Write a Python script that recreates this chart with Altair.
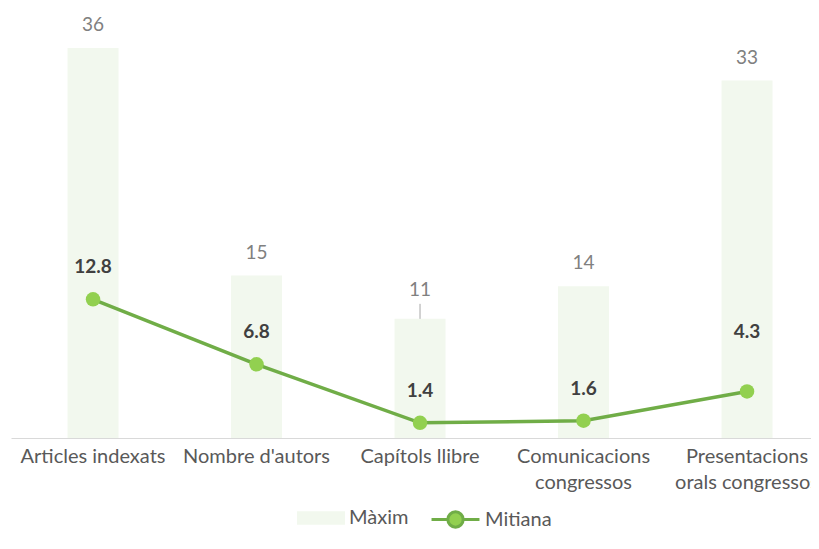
import altair as alt
import pandas as pd

categories = ["Articles indexats", "Nombre d'autors", "Capítols llibre",
              "Comunicacions|congressos", "Presentacions|orals congressos"]
maxim = [36, 15, 11, 14, 33]
mitiana = [12.8, 6.8, 1.4, 1.6, 4.3]

df = pd.DataFrame({"cat": categories, "Màxim": maxim, "Mitiana": mitiana,
                   "s1": "Màxim", "s2": "Mitiana"})

FONT = "Lato"
FS = 19
BAR = "#f2f8ee"
LINE = "#70ad47"
PT = "#92d050"

x = alt.X("cat:N", sort=categories, title=None,
          scale=alt.Scale(paddingInner=0.688, paddingOuter=0.2905, align=0.595),
          axis=alt.Axis(labelExpr="split(datum.label, '|')", labelAngle=0,
                        labelFontSize=20, labelColor="#595959", labelFont=FONT,
                        labelPadding=18, labelLineHeight=26, ticks=False,
                        domainColor="#d9d9d9", domainWidth=1.2, labelBaseline="middle"))
yscale = alt.Scale(domain=[0, 39.7], nice=False)

rect_path = "M-1,-0.28H1V0.28H-1Z"
line_path = "M-1,0H-0.32A0.32,0.32 0 1,1 0.32,0H1M0.32,0A0.32,0.32 0 1,1 -0.32,0"

leg_common = dict(orient="none", direction="horizontal", labelFontSize=20,
                  labelColor="#595959", labelFont=FONT, symbolSize=2300,
                  labelOffset=4, legendY=486)

base = alt.Chart(df)

bars = base.mark_bar().encode(
    x=x, y=alt.Y("Màxim:Q", scale=yscale, axis=None),
    fill=alt.Fill("s1:N", title=None, scale=alt.Scale(domain=["Màxim"], range=[BAR]),
                  legend=alt.Legend(symbolType=rect_path, symbolStrokeWidth=0,
                                    legendX=286, **leg_common)))

lead_cat = "Capítols llibre"
lift_cat = "Presentacions|orals congressos"

bar_labels = base.transform_filter(f"datum.cat != \"{lead_cat}\"").mark_text(
    dy=-23, fontSize=FS, color="#808080", font=FONT).encode(
    x=x, y=alt.Y("Màxim:Q", scale=yscale), text=alt.Text("Màxim:Q"))

bar_labels_lead = base.transform_filter(f"datum.cat == \"{lead_cat}\"").mark_text(
    dy=-29, fontSize=FS, color="#808080", font=FONT).encode(
    x=x, y=alt.Y("Màxim:Q", scale=yscale), text=alt.Text("Màxim:Q"))

leader_rule = base.transform_filter(f"datum.cat == \"{lead_cat}\"").mark_rule(
    color="#a6a6a6", strokeWidth=1, y2Offset=-15).encode(
    x=x, y=alt.Y("Màxim:Q", scale=yscale), y2=alt.Y2("Màxim"))

line = base.mark_line(strokeWidth=3.5).encode(
    x=x, y=alt.Y("Mitiana:Q", scale=yscale),
    stroke=alt.Stroke("s2:N", title=None, scale=alt.Scale(domain=["Mitiana"], range=[LINE]),
                      legend=alt.Legend(symbolType=line_path, symbolStrokeWidth=3,
                                        symbolFillColor=PT, legendX=419, **leg_common)))

points = base.mark_point(filled=True, size=210, color=PT, opacity=1).encode(
    x=x, y=alt.Y("Mitiana:Q", scale=yscale))

line_labels = base.transform_filter(f"datum.cat != \"{lift_cat}\"").mark_text(
    dy=-32, fontSize=FS, fontWeight="bold", color="#404040", font=FONT).encode(
    x=x, y=alt.Y("Mitiana:Q", scale=yscale),
    text=alt.Text("Mitiana:Q", format=".1f"))

line_labels_lift = base.transform_filter(f"datum.cat == \"{lift_cat}\"").mark_text(
    dy=-59, fontSize=FS, fontWeight="bold", color="#404040", font=FONT).encode(
    x=x, y=alt.Y("Mitiana:Q", scale=yscale),
    text=alt.Text("Mitiana:Q", format=".1f"))

chart = alt.layer(bars, bar_labels, bar_labels_lead, leader_rule, line, points,
                  line_labels, line_labels_lift).properties(
    width=800, height=430,
    autosize=alt.AutoSizeParams(type="none"),
    padding={"left": 3, "top": 0, "right": 0, "bottom": 92}
).configure_view(stroke=None)

chart.save("out.html", embed_options={"renderer": "svg", "actions": False})
